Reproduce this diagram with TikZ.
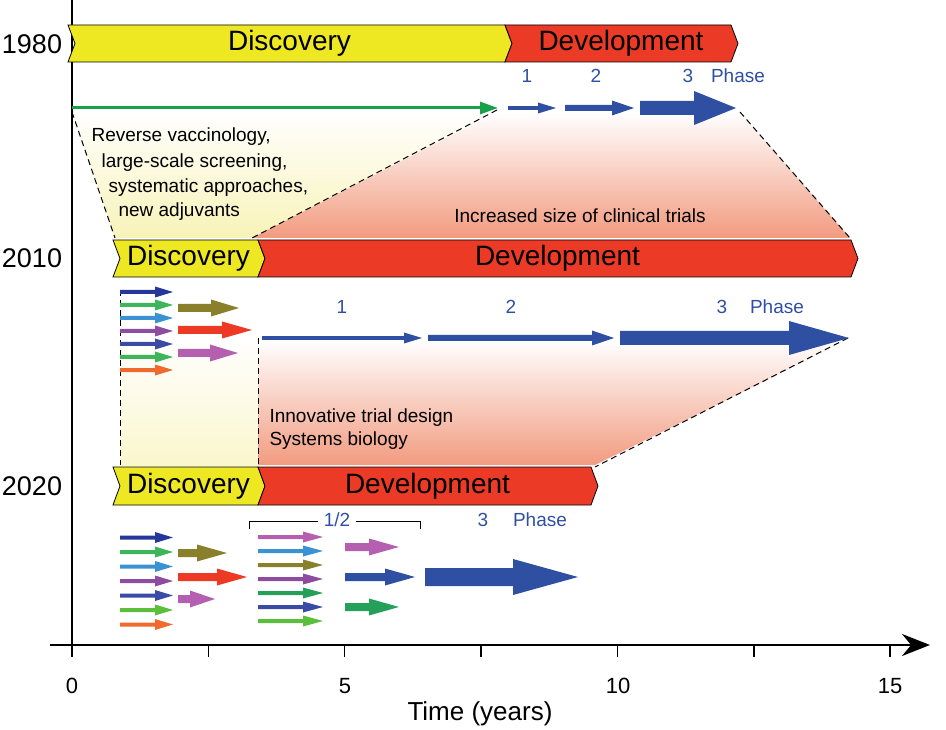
\documentclass[tikz,border=0pt]{standalone}
\usepackage{fontspec}
\setmainfont{Liberation Sans}
\usetikzlibrary{arrows.meta}
\definecolor{byel}{HTML}{EEE823}
\definecolor{bred}{HTML}{EB3A26}
\definecolor{pblue}{HTML}{2F4FA3}
\definecolor{pgreen}{HTML}{18A04A}
\definecolor{cdblue}{HTML}{26379A}
\definecolor{cgreen}{HTML}{3DB55A}
\definecolor{clblue}{HTML}{3A92D2}
\definecolor{cpurple}{HTML}{8E4CA0}
\definecolor{cind}{HTML}{3A4BA6}
\definecolor{clgreen}{HTML}{5BBF3C}
\definecolor{corange}{HTML}{F06A2E}
\definecolor{colive}{HTML}{8A7F2A}
\definecolor{cred}{HTML}{EC3A24}
\definecolor{cmag}{HTML}{B55FB0}
\definecolor{cdgreen}{HTML}{24A05A}
\definecolor{salmon}{HTML}{F29B80}
\definecolor{lyel}{HTML}{F8F3B8}
\newcommand\fatarr[7]{% x1 x2 y shafthalf headhalf headlen color
  \pgfmathsetmacro\yy{#3}%
  \fill[#7] (#1,\yy-#4) -- (#2-#6,\yy-#4) -- (#2-#6,\yy-#5) -- (#2,\yy) -- (#2-#6,\yy+#5) -- (#2-#6,\yy+#4) -- (#1,\yy+#4) -- cycle;}
\newcommand\chev[6]{% x1 x2 top bot color text
  \draw[fill=#5,line width=0.8pt] (#1,#3) -- (#2,#3) -- ({#2+7},{(#3+#4)/2}) -- (#2,#4) -- (#1,#4) -- ({#1+7},{(#3+#4)/2}) -- cycle;
  \node[font=\fontsize{28}{30}\selectfont] at ({(#1+#2)/2+3},{(#3+#4)/2}) {#6};}
\tikzset{lbl/.style={font=\fontsize{19}{21}\selectfont,pblue},
  txt/.style={font=\fontsize{19}{22}\selectfont,anchor=west},
  dsh/.style={dashed,dash pattern=on 6pt off 4pt,line width=1pt}}
\begin{document}
\begin{tikzpicture}[x=1pt,y=-1pt]
\useasboundingbox (0,0) rectangle (946,730);
% regions
\shade[top color=white,bottom color=lyel] (72,112) -- (497,112) -- (252,238) -- (115,238) -- cycle;
\shade[top color=white,bottom color=salmon] (497,112) -- (740,112) -- (850,238) -- (252,238) -- cycle;
\shade[top color=white,bottom color=lyel!70] (120,336) rectangle (258,465);
\shade[top color=white,bottom color=salmon] (258,340) -- (848,340) -- (595,465) -- (258,465) -- cycle;
\draw[dsh] (72,112) -- (115,238);
\draw[dsh] (497,110) -- (252,238);
\draw[dsh] (740,112) -- (850,238);
\draw[dsh] (120,290) -- (120,465);
\draw[dsh] (258,338) -- (258,465);
\draw[dsh] (848,338) -- (595,467);
% axes
\draw[line width=2pt] (72,0) -- (72,645);
\draw[line width=2.5pt,-{Stealth[length=28pt,width=22pt]}] (50,645) -- (930,645);
\foreach \i in {0,...,6} \draw[line width=1.5pt] ({72+136.35*\i},645) -- ({72+136.35*\i},657);
\foreach \v/\x in {0/72,5/345,10/618,15/890} \node[font=\fontsize{22}{24}\selectfont] at (\x,686) {\v};
\node[font=\fontsize{26}{28}\selectfont] at (480,714) {Time (years)};
\foreach \t/\y in {1980/44,2010/258,2020/486} \node[font=\fontsize{27}{29}\selectfont] at (32,\y) {\t};
% bars
\chev{68}{505}{25}{62}{byel}{Discovery}
\chev{505}{731}{25}{62}{bred}{Development}
\chev{113}{258}{240}{277}{byel}{Discovery}
\chev{258}{851}{240}{277}{bred}{Development}
\chev{113}{258}{467}{505}{byel}{Discovery}
\chev{258}{591}{467}{505}{bred}{Development}
% texts
\node[txt] at (88,137) {Reverse vaccinology,};
\node[txt] at (98,163) {large-scale screening,};
\node[txt] at (105,188) {systematic approaches,};
\node[txt] at (115,212) {new adjuvants};
\node[font=\fontsize{19}{21}\selectfont] at (580,216) {Increased size of clinical trials};
\node[txt] at (266,418) {Innovative trial design};
\node[txt] at (266,441) {Systems biology};
% top phases
\draw[pgreen,line width=3pt,-{Triangle[length=18pt,width=12pt]}] (72,108) -- (498,108);
\fatarr{508}{556}{108}{1.8}{5.5}{18}{pblue}
\fatarr{565}{634}{108}{3}{7.5}{22}{pblue}
\fatarr{640}{736}{108}{7}{17}{42}{pblue}
\node[lbl] at (527,76) {1};
\node[lbl] at (596,76) {2};
\node[lbl] at (688,76) {3};
\node[lbl] at (738,76) {Phase};
% middle phases
\fatarr{262}{422}{338}{1.8}{5.5}{18}{pblue}
\fatarr{428}{614}{338}{3}{7.5}{22}{pblue}
\fatarr{620}{849}{338}{7}{17}{60}{pblue}
\node[lbl] at (342,307) {1};
\node[lbl] at (511,307) {2};
\node[lbl] at (722,307) {3};
\node[lbl] at (777,307) {Phase};
% 2010 small arrows
\foreach \c [count=\i] in {cdblue,cgreen,clblue,cpurple,cind,cgreen,corange}
  {\fatarr{120}{173}{279+13*\i}{2}{5.5}{18}{\c}}
\fatarr{178}{239}{308}{4}{8.5}{28}{colive}
\fatarr{178}{252}{330}{4}{8.5}{30}{cred}
\fatarr{178}{238}{353}{4}{8.5}{28}{cmag}
% 2020
\draw[line width=1pt] (249,529) -- (249,521) -- (318,521);
\draw[line width=1pt] (356,521) -- (420,521) -- (420,529);
\node[lbl] at (337,520) {1/2};
\node[lbl] at (483,520) {3};
\node[lbl] at (540,520) {Phase};
\foreach \c [count=\i] in {cdblue,cgreen,clblue,cpurple,cind,clgreen,corange}
  {\fatarr{120}{173}{523+14.5*\i}{2}{5.5}{18}{\c}}
\fatarr{178}{227}{553}{4}{8.5}{30}{colive}
\fatarr{178}{247}{577}{4}{8.5}{30}{cred}
\fatarr{178}{215}{599}{4}{8.5}{25}{cmag}
\foreach \c [count=\i] in {cmag,clblue,colive,cpurple,cdgreen,cind,clgreen}
  {\fatarr{258}{323}{523+14*\i}{2}{5.5}{20}{\c}}
\fatarr{345}{399}{547}{4}{8.5}{30}{cmag}
\fatarr{345}{415}{577}{4}{8.5}{30}{pblue}
\fatarr{345}{399}{607}{4}{8.5}{30}{cdgreen}
\fatarr{425}{578}{577}{9}{18}{65}{pblue}
\end{tikzpicture}
\end{document}
